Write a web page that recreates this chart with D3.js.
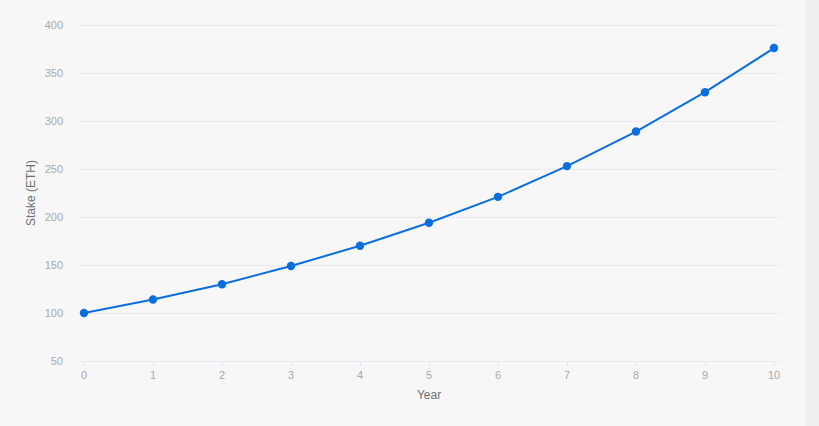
<!DOCTYPE html>
<html><head><meta charset="utf-8">
<script src="https://cdn.jsdelivr.net/npm/d3@7"></script>
<style>
html,body{margin:0;padding:0;background:#f7f7f8;}
svg{display:block;}
</style></head>
<body>
<svg id="c" width="819" height="426"></svg>
<script>
const years = [0,1,2,3,4,5,6,7,8,9,10];
const stake = [100,114,130,149,170,194,221,253,289,330,376];
const yTicks = [50,100,150,200,250,300,350,400];
const xLabel = "Year";
const yLabel = "Stake (ETH)";

const svg = d3.select("#c");
svg.append("rect").attr("x",0).attr("y",0).attr("width",819).attr("height",426).attr("fill","#f7f7f8");
svg.append("rect").attr("x",806).attr("y",0).attr("width",13).attr("height",426).attr("fill","#efeff0");

const x = d3.scaleLinear().domain([0,10]).range([84,774]);
const y = d3.scaleLinear().domain([50,400]).range([361,25]);
const left = 78, right = 781;

const font = "Liberation Sans, Arial, sans-serif";
const g = svg.append("g");
// grid
g.selectAll("line.grid").data(yTicks).enter().append("line")
 .attr("x1",left).attr("x2",right)
 .attr("y1",d=>Math.round(y(d))+0.5).attr("y2",d=>Math.round(y(d))+0.5)
 .attr("stroke","#e9e9f3").attr("stroke-width",1);
// y labels
g.selectAll("text.yl").data(yTicks).enter().append("text")
 .attr("x",63).attr("y",d=>y(d)).attr("dy","0.35em")
 .attr("text-anchor","end").attr("font-family",font).attr("font-size",11)
 .attr("fill","#a9a9a9").text(d=>d);
// x ticks
g.selectAll("line.xt").data(years).enter().append("line")
 .attr("x1",d=>Math.round(x(d))+0.5).attr("x2",d=>Math.round(x(d))+0.5)
 .attr("y1",361).attr("y2",366).attr("stroke","#e9e9f3");
g.selectAll("text.xl").data(years).enter().append("text")
 .attr("x",d=>x(d)).attr("y",375).attr("dy","0.35em")
 .attr("text-anchor","middle").attr("font-family",font).attr("font-size",11)
 .attr("fill","#a9a9a9").text(d=>d);
// axis names
svg.append("text").attr("x",429).attr("y",395).attr("dy","0.35em").attr("text-anchor","middle")
 .attr("font-family",font).attr("font-size",12).attr("fill","#6e6e6e").text(xLabel);
svg.append("text").attr("transform","translate(31,193) rotate(-90)").attr("dy","0.35em").attr("text-anchor","middle")
 .attr("font-family",font).attr("font-size",12).attr("fill","#6e6e6e").text(yLabel);
// line
const data = years.map((d,i)=>({x:d,y:stake[i]}));
svg.append("path").datum(data)
 .attr("d",d3.line().x(d=>x(d.x)).y(d=>y(d.y)))
 .attr("fill","none").attr("stroke","#0a6fdc").attr("stroke-width",2);
svg.selectAll("circle").data(data).enter().append("circle")
 .attr("cx",d=>x(d.x)).attr("cy",d=>y(d.y)).attr("r",4.2).attr("fill","#0a6fdc");
</script>
</body></html>
